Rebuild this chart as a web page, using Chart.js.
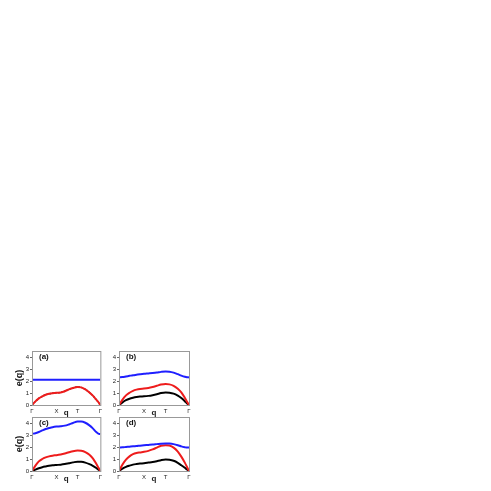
<!DOCTYPE html>
<html>
<head>
<meta charset="utf-8">
<script src="https://cdn.jsdelivr.net/npm/chart.js@4"></script>
<style>
  body { margin: 0; background: #fff; width: 491px; height: 491px; position: relative; overflow: hidden; }
  canvas { position: absolute; }
</style>
</head>
<body>
<canvas id="pa" width="105" height="75" style="left:0px;top:345px"></canvas>
<canvas id="pb" width="105" height="75" style="left:95px;top:345px"></canvas>
<canvas id="pc" width="105" height="75" style="left:0px;top:411px"></canvas>
<canvas id="pd" width="105" height="75" style="left:95px;top:411px"></canvas>
<script>
// path along the Brillouin zone: Γ - X - T - Γ
const qPath = [0, 0.05, 0.1, 0.15, 0.2, 0.25, 0.3, 0.357, 0.42, 0.48, 0.54, 0.6, 0.667, 0.72, 0.78, 0.84, 0.89, 0.94, 0.97, 1];
const xTickPos = [0, 0.357, 0.5, 0.667, 1];
const xTickLabels = ["Γ", "X", "q", "T", "Γ"];
const yTicks = [0, 1, 2, 3, 4];
const panelLabels = ["(a)", "(b)", "(c)", "(d)"];

const blueA = [2.1, 2.1, 2.1, 2.1, 2.1, 2.1, 2.1, 2.1, 2.1, 2.1, 2.1, 2.1, 2.1, 2.1, 2.1, 2.1, 2.1, 2.1, 2.1, 2.1];
const redA = [0, 0.3, 0.55, 0.72, 0.85, 0.93, 0.98, 1.02, 1.05, 1.15, 1.3, 1.42, 1.5, 1.47, 1.3, 1.05, 0.78, 0.45, 0.25, 0];
const blackA = [0, 0.3, 0.55, 0.72, 0.85, 0.93, 0.98, 1.02, 1.05, 1.15, 1.3, 1.42, 1.5, 1.47, 1.3, 1.05, 0.78, 0.45, 0.25, 0];

const blueB = [2.3, 2.33, 2.38, 2.43, 2.48, 2.52, 2.56, 2.6, 2.63, 2.66, 2.7, 2.76, 2.8, 2.78, 2.7, 2.57, 2.45, 2.35, 2.31, 2.3];
const redB = [0, 0.45, 0.8, 1.02, 1.18, 1.28, 1.34, 1.37, 1.42, 1.5, 1.6, 1.7, 1.75, 1.72, 1.6, 1.35, 1.05, 0.6, 0.3, 0];
const blackB = [0, 0.22, 0.4, 0.52, 0.6, 0.66, 0.7, 0.72, 0.76, 0.82, 0.9, 1.0, 1.05, 1.03, 0.95, 0.78, 0.58, 0.32, 0.15, 0];

const blueC = [3.1, 3.15, 3.25, 3.38, 3.5, 3.58, 3.65, 3.7, 3.73, 3.78, 3.88, 4.0, 4.12, 4.12, 4.02, 3.8, 3.55, 3.25, 3.12, 3.08];
const redC = [0, 0.45, 0.8, 1.0, 1.13, 1.22, 1.28, 1.32, 1.38, 1.46, 1.56, 1.65, 1.7, 1.68, 1.57, 1.35, 1.05, 0.6, 0.3, 0];
const blackC = [0, 0.12, 0.23, 0.32, 0.38, 0.43, 0.47, 0.5, 0.53, 0.58, 0.65, 0.72, 0.78, 0.77, 0.7, 0.57, 0.43, 0.25, 0.12, 0];

const blueD = [1.95, 1.97, 2.0, 2.03, 2.06, 2.08, 2.11, 2.14, 2.17, 2.2, 2.24, 2.28, 2.3, 2.29, 2.24, 2.15, 2.05, 1.98, 1.95, 1.95];
const redD = [0, 0.55, 0.95, 1.22, 1.4, 1.5, 1.55, 1.6, 1.68, 1.8, 1.95, 2.1, 2.15, 2.12, 1.95, 1.62, 1.2, 0.7, 0.35, 0];
const blackD = [0, 0.2, 0.35, 0.45, 0.53, 0.58, 0.62, 0.65, 0.7, 0.75, 0.82, 0.9, 0.95, 0.93, 0.85, 0.68, 0.48, 0.27, 0.13, 0];

const FONT = "'Liberation Sans', Arial, sans-serif";
Chart.defaults.font.family = FONT;

const framePlugin = {
  id: "frame",
  afterDraw(chart, args, opts) {
    const { ctx, chartArea: a } = chart;
    ctx.save();
    ctx.strokeStyle = "#999";
    ctx.lineWidth = 1;
    ctx.strokeRect(a.left + 0.5, a.top + 0.5, a.right - a.left, a.bottom - a.top);
    ctx.font = "bold 8px " + FONT;
    ctx.fillStyle = "#111";
    ctx.textBaseline = "middle";
    ctx.fillText(opts.label, a.left + 7, a.top + 6);
    ctx.restore();
  },
};

const line = (values, color, dash) => ({
  data: values.map((v, i) => ({ x: qPath[i], y: v })),
  borderColor: color,
  borderWidth: dash ? 1.5 : 2,
  borderDash: dash || [],
  pointRadius: 0,
  cubicInterpolationMode: "monotone",
  fill: false,
});

function buildPanel(id, label, blue, red, black, opts) {
  const datasets = [line(blue, "#1f1fff"), line(red, "#ee1c1c"), line(black, "#000", opts.dashed ? [1.5, 1.5] : null)];
  new Chart(document.getElementById(id), {
    type: "line",
    data: { datasets },
    plugins: [framePlugin],
    options: {
      responsive: false,
      animation: false,
      events: [],
      layout: { padding: { top: 6, right: opts.right, left: 0, bottom: 0 } },
      plugins: {
        legend: { display: false },
        tooltip: { enabled: false },
        frame: { label },
      },
      scales: {
        x: {
          type: "linear",
          min: 0,
          max: 1,
          afterBuildTicks: (scale) => {
            scale.ticks = xTickPos.map((v) => ({ value: v }));
          },
          afterFit: (scale) => {
            scale.height = 15;
          },
          grid: { display: false, drawTicks: false },
          border: { display: false },
          ticks: {
            autoSkip: false,
            maxRotation: 0,
            padding: 3,
            color: "#222",
            callback: (v, i) => xTickLabels[i],
            font: (ctx) => (ctx.index === 2 ? { size: 8, weight: "bold" } : { size: 6 }),
          },
        },
        y: {
          min: 0,
          max: 4.5,
          afterBuildTicks: (scale) => {
            scale.ticks = yTicks.map((v) => ({ value: v }));
          },
          afterFit: (scale) => {
            scale.width = opts.yWidth;
          },
          grid: { drawOnChartArea: false, tickLength: 2, color: "#666" },
          border: { display: false },
          ticks: { padding: 1, color: "#222", font: { size: 6 } },
          title: {
            display: opts.yTitle,
            text: "e(q)",
            color: "#111",
            font: { size: 9, weight: "bold" },
            padding: { top: 14, bottom: 0 },
          },
        },
      },
    },
  });
}

buildPanel("pa", panelLabels[0], blueA, redA, blackA, { yWidth: 32, right: 3, yTitle: true, dashed: true });
buildPanel("pb", panelLabels[1], blueB, redB, blackB, { yWidth: 24, right: 11, yTitle: false });
buildPanel("pc", panelLabels[2], blueC, redC, blackC, { yWidth: 32, right: 3, yTitle: true });
buildPanel("pd", panelLabels[3], blueD, redD, blackD, { yWidth: 24, right: 11, yTitle: false });
</script>
</body>
</html>
